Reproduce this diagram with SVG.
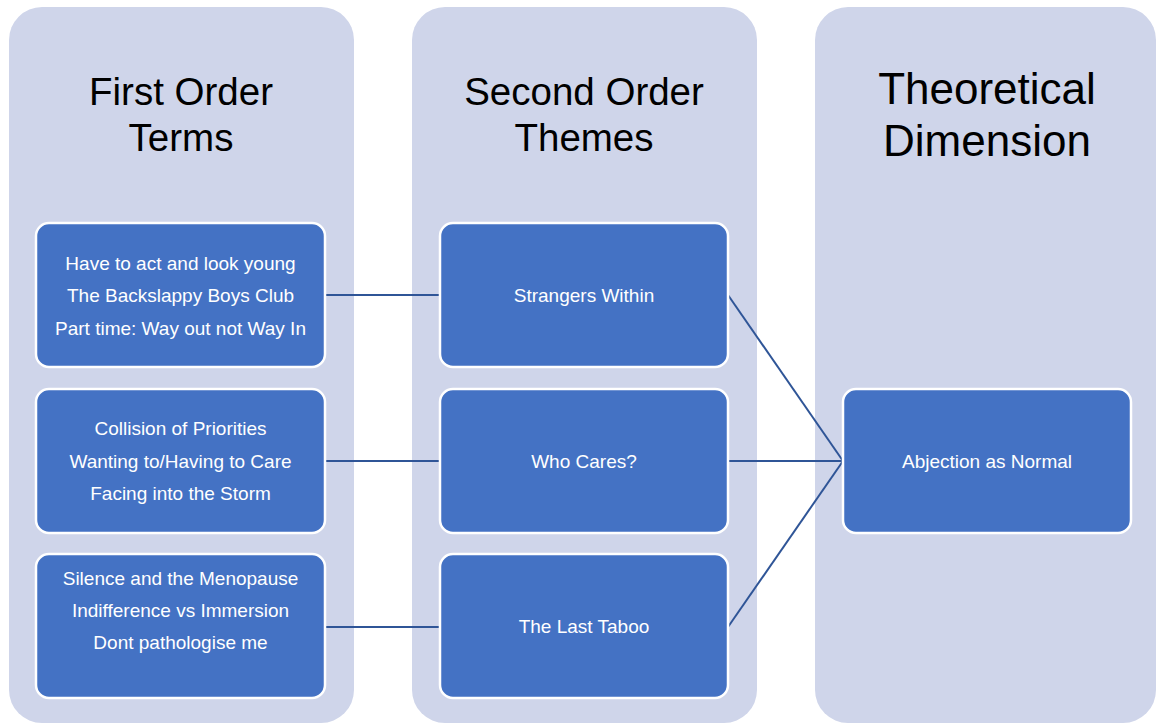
<svg xmlns="http://www.w3.org/2000/svg" width="1158" height="725" viewBox="0 0 1158 725">
<style>
.col{fill:#CFD5EA;}
.box{fill:#4472C4;stroke:#FFFFFF;stroke-width:2.5;}
.h{font-family:"Liberation Sans",Arial,sans-serif;font-size:38.5px;fill:#000;text-anchor:middle;}
.h2{font-family:"Liberation Sans",Arial,sans-serif;font-size:44px;fill:#000;text-anchor:middle;}
.t{font-family:"Liberation Sans",Arial,sans-serif;font-size:19px;fill:#FFFFFF;text-anchor:middle;}
.c{stroke:#2F5597;stroke-width:2;fill:none;}
</style>
<rect width="1158" height="725" fill="#FFFFFF"/>
<g id="col1"><rect class="col" x="9" y="7" width="345" height="716" rx="33"/>
<text class="h" x="181" y="105">First Order</text><text class="h" x="181" y="151">Terms</text></g>
<g id="col2"><rect class="col" x="412" y="7" width="345" height="716" rx="33"/>
<text class="h" x="584" y="105">Second Order</text><text class="h" x="584" y="151">Themes</text></g>
<g id="col3"><rect class="col" x="815" y="7" width="341" height="716" rx="33"/>
<text class="h2" x="987" y="104">Theoretical</text><text class="h2" x="987" y="156">Dimension</text></g>
<g id="connectors">
<line class="c" x1="325" y1="295" x2="440" y2="295"/>
<line class="c" x1="325" y1="461" x2="440" y2="461"/>
<line class="c" x1="325" y1="627" x2="440" y2="627"/>
<line class="c" x1="728" y1="295" x2="843" y2="461"/>
<line class="c" x1="728" y1="461" x2="843" y2="461"/>
<line class="c" x1="728" y1="627" x2="843" y2="461"/>
</g>
<g id="t1"><rect class="box" x="36" y="223" width="289" height="144" rx="13"/>
<text class="t" x="180.5" y="270">Have to act and look young</text>
<text class="t" x="180.5" y="302">The Backslappy Boys Club</text>
<text class="t" x="180.5" y="335">Part time: Way out not Way In</text></g>
<g id="t2"><rect class="box" x="36" y="389" width="289" height="144" rx="13"/>
<text class="t" x="180.5" y="435">Collision of Priorities</text>
<text class="t" x="180.5" y="468">Wanting to/Having to Care</text>
<text class="t" x="180.5" y="500">Facing into the Storm</text></g>
<g id="t3"><rect class="box" x="36" y="554" width="289" height="144" rx="13"/>
<text class="t" x="180.5" y="585">Silence and the Menopause</text>
<text class="t" x="180.5" y="617">Indifference vs Immersion</text>
<text class="t" x="180.5" y="649">Dont pathologise me</text></g>
<g id="s1"><rect class="box" x="440" y="223" width="288" height="144" rx="13"/>
<text class="t" x="584" y="302">Strangers Within</text></g>
<g id="s2"><rect class="box" x="440" y="389" width="288" height="144" rx="13"/>
<text class="t" x="584" y="468">Who Cares?</text></g>
<g id="s3"><rect class="box" x="440" y="554" width="288" height="144" rx="13"/>
<text class="t" x="584" y="633">The Last Taboo</text></g>
<g id="d1"><rect class="box" x="843" y="389" width="288" height="144" rx="13"/>
<text class="t" x="987" y="468">Abjection as Normal</text></g>
</svg>
